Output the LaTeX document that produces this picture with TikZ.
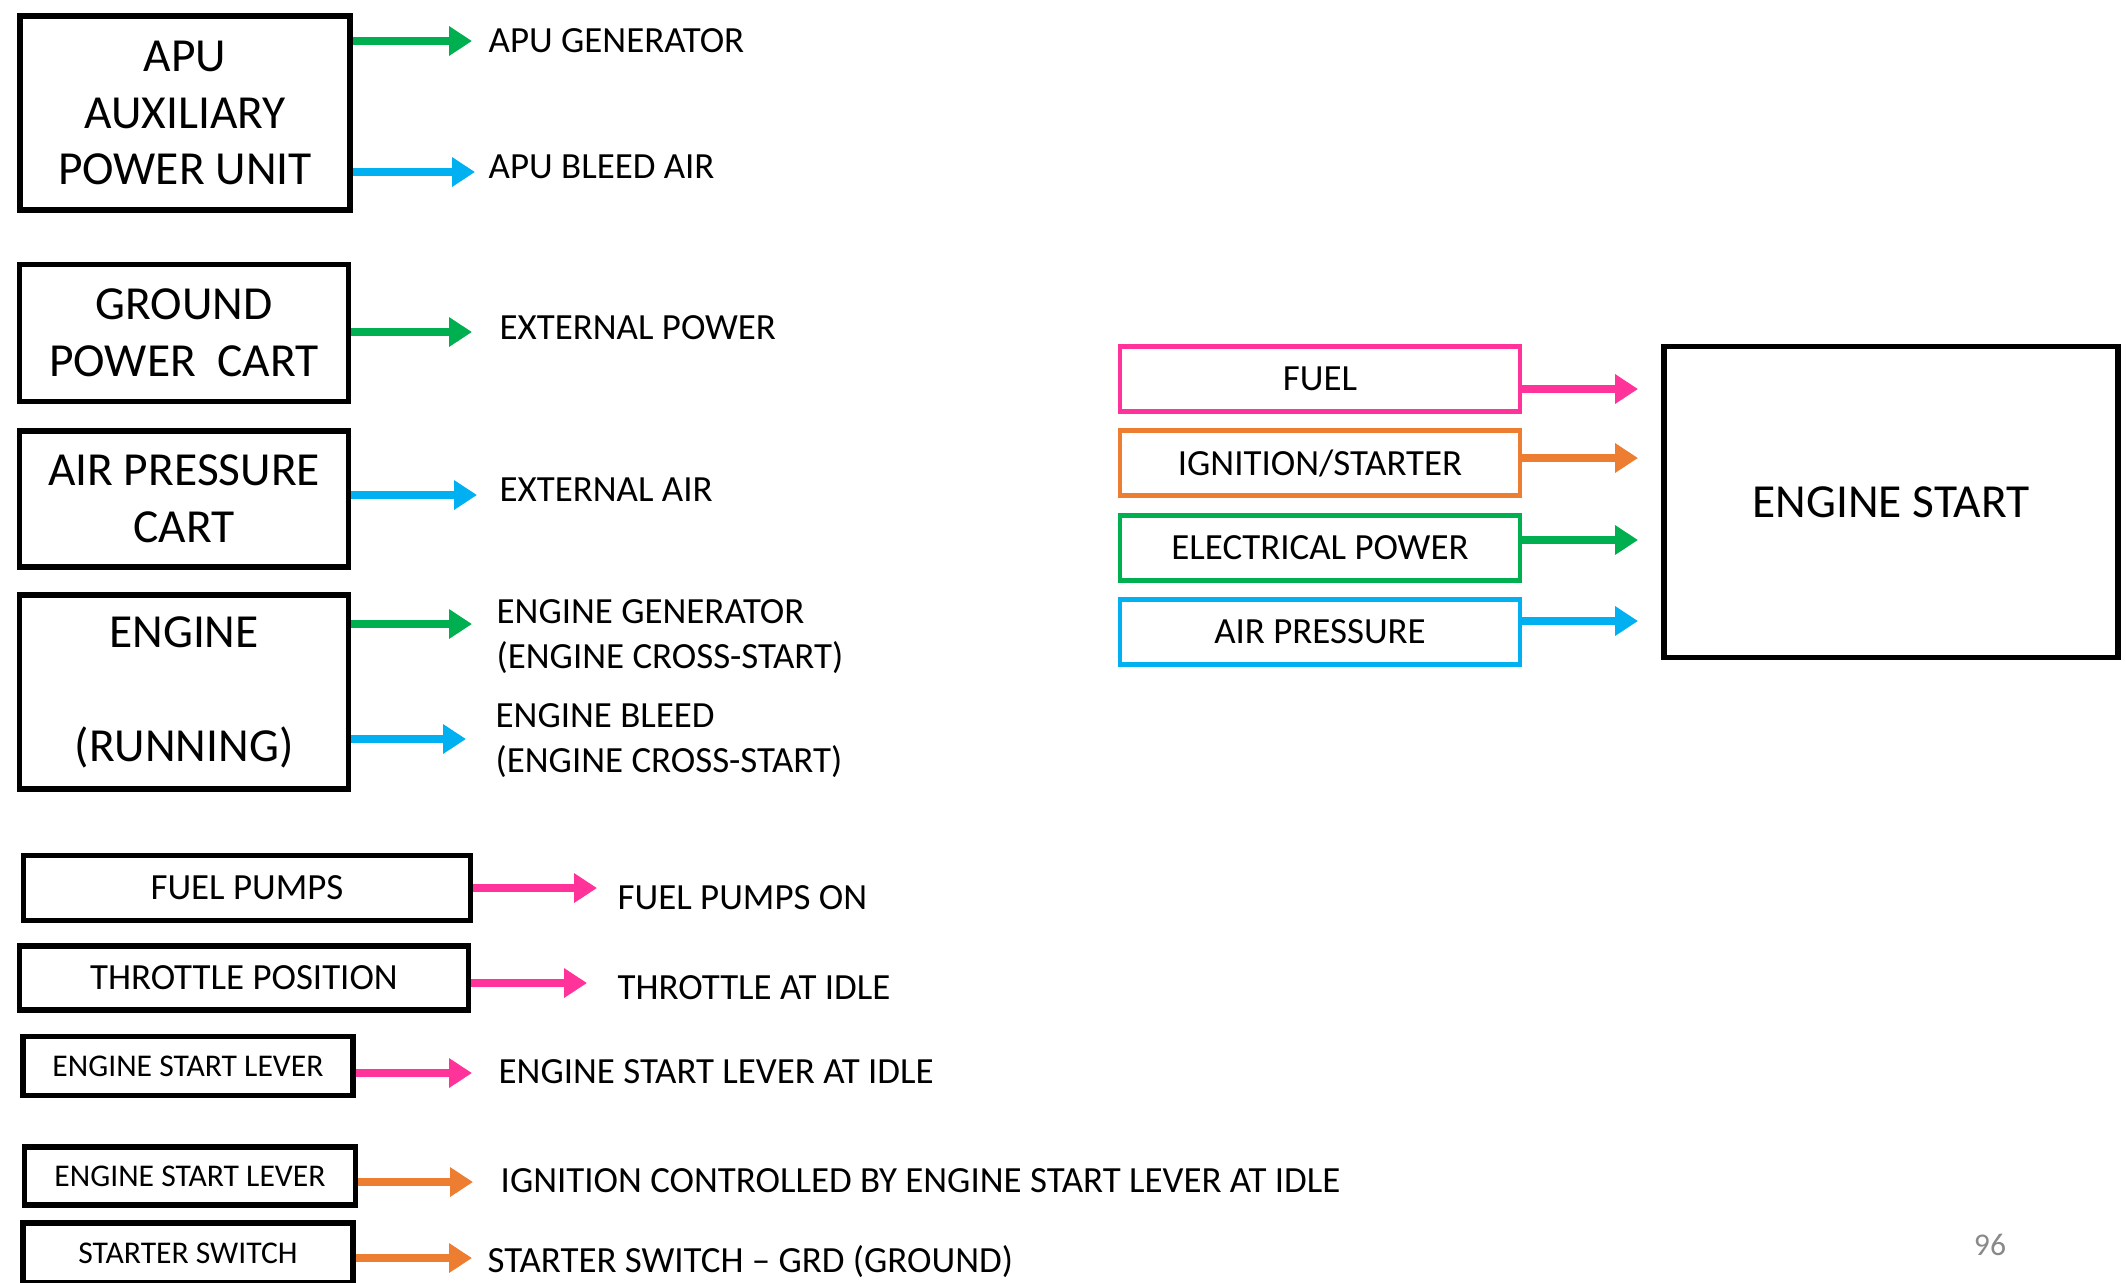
\documentclass[tikz,border=0pt]{standalone}
\usepackage{fontspec}
\setmainfont{Carlito}
\usetikzlibrary{arrows.meta}
\definecolor{elecgreen}{RGB}{0,176,80}
\definecolor{airblue}{RGB}{0,176,240}
\definecolor{fuelpink}{RGB}{255,51,153}
\definecolor{ignorange}{RGB}{237,125,49}
\definecolor{pagegray}{RGB}{137,137,137}
\tikzset{
  bigbox/.style={draw, line width=1.6pt, inner sep=0pt, align=center,
    font=\fontsize{13.5}{16.2}\selectfont},
  ctrlbox/.style={draw, line width=1.6pt, inner sep=0pt,
    font=\fontsize{10.5}{12.6}\selectfont},
  inbox/.style={draw, line width=1.4pt, inner sep=0pt, minimum width=40mm,
    minimum height=6.5mm, font=\fontsize{10.5}{12.6}\selectfont},
  lbl/.style={anchor=west, align=left, inner sep=0pt,
    font=\fontsize{10.5}{12.8}\selectfont},
  arr/.style={line width=2.2pt, -{Triangle[width=8pt,length=6.5pt]}}
}
\begin{document}
\begin{tikzpicture}[x=0.1mm,y=-0.1mm]
\useasboundingbox (0,0) rectangle (2126,1282);

% sources
\node[bigbox, minimum width=33mm, minimum height=19.4mm] (apu) at (185,113)
  {APU\\AUXILIARY\\POWER UNIT};
\node[bigbox, minimum width=32.9mm, minimum height=13.7mm] (gpc) at (184,333)
  {GROUND\\POWER\ \ CART};
\node[bigbox, minimum width=32.9mm, minimum height=13.6mm] (apc) at (184,499)
  {AIR PRESSURE\\CART};
\node[bigbox, minimum width=32.9mm, minimum height=19.4mm] (eng) at (184,692)
  {ENGINE\\~\\(RUNNING)};
\node[ctrlbox, minimum width=44.7mm, minimum height=6.5mm] (pumps) at (247,888)
  {FUEL PUMPS};
\node[ctrlbox, minimum width=44.9mm, minimum height=6.4mm] (thr) at (244,978)
  {THROTTLE POSITION};
\node[ctrlbox, font=\fontsize{9}{11}\selectfont, minimum width=33mm,
  minimum height=5.9mm] (lever) at (188,1066) {ENGINE START LEVER};
\node[ctrlbox, font=\fontsize{9}{11}\selectfont, minimum width=33.1mm,
  minimum height=5.8mm] (leverb) at (190,1176) {ENGINE START LEVER};
\node[ctrlbox, font=\fontsize{9}{11}\selectfont, minimum width=33mm,
  minimum height=6mm] (sw) at (188,1253) {STARTER SWITCH};

% labels
\node[lbl] (apugen) at (488,41) {APU GENERATOR};
\node[lbl] (apubleed) at (488,167) {APU BLEED AIR};
\node[lbl] (extpwr) at (499,328) {EXTERNAL POWER};
\node[lbl] (extair) at (499,490) {EXTERNAL AIR};
\node[lbl] (enggen) at (496,637) {ENGINE GENERATOR\\(ENGINE CROSS-START)};
\node[lbl] (engbleed) at (495,741) {ENGINE BLEED\\(ENGINE CROSS-START)};
\node[lbl] (pumpson) at (617,898) {FUEL PUMPS ON};
\node[lbl] (thridle) at (617,988) {THROTTLE AT IDLE};
\node[lbl] (leveridle) at (498,1072) {ENGINE START LEVER AT IDLE};
\node[lbl] (ignctl) at (500,1181) {IGNITION CONTROLLED BY ENGINE START LEVER AT IDLE};
\node[lbl] (swgrd) at (487,1262) {STARTER SWITCH -- GRD (GROUND)};

% arrow tips
\coordinate (t1) at (472,41);
\coordinate (t2) at (475,172);
\coordinate (t3) at (472,332);
\coordinate (t4) at (477,495);
\coordinate (t5) at (472,624);
\coordinate (t6) at (466,739);
\coordinate (t7) at (597,888);
\coordinate (t8) at (587,983);
\coordinate (t9) at (472,1073);
\coordinate (t10) at (473,1182);
\coordinate (t11) at (472,1258);

\draw[arr, elecgreen] (apu.east |- t1) -- (t1);
\draw[arr, airblue] (apu.east |- t2) -- (t2);
\draw[arr, elecgreen] (gpc.east |- t3) -- (t3);
\draw[arr, airblue] (apc.east |- t4) -- (t4);
\draw[arr, elecgreen] (eng.east |- t5) -- (t5);
\draw[arr, airblue] (eng.east |- t6) -- (t6);
\draw[arr, fuelpink] (pumps.east |- t7) -- (t7);
\draw[arr, fuelpink] (thr.east |- t8) -- (t8);
\draw[arr, fuelpink] (lever.east |- t9) -- (t9);
\draw[arr, ignorange] (leverb.east |- t10) -- (t10);
\draw[arr, ignorange] (sw.east |- t11) -- (t11);

% engine start needs
\node[inbox, draw=fuelpink] (fuel) at (1320,379) {FUEL};
\node[inbox, draw=ignorange] (ign) at (1320,463) {IGNITION/STARTER};
\node[inbox, draw=elecgreen] (elec) at (1320,548) {ELECTRICAL POWER};
\node[inbox, draw=airblue] (air) at (1320,632) {AIR PRESSURE};
\node[bigbox, minimum width=45.4mm, minimum height=31.1mm] (start) at (1891,502)
  {ENGINE START};

\coordinate (s1) at (1638,389);
\coordinate (s2) at (1638,458);
\coordinate (s3) at (1638,540);
\coordinate (s4) at (1638,621);
\draw[arr, fuelpink] (fuel.east |- s1) -- (s1);
\draw[arr, ignorange] (ign.east |- s2) -- (s2);
\draw[arr, elecgreen] (elec.east |- s3) -- (s3);
\draw[arr, airblue] (air.east |- s4) -- (s4);

\node[pagegray, font=\fontsize{9}{11}\selectfont] (page) at (1990,1245) {96};
\end{tikzpicture}
\end{document}
